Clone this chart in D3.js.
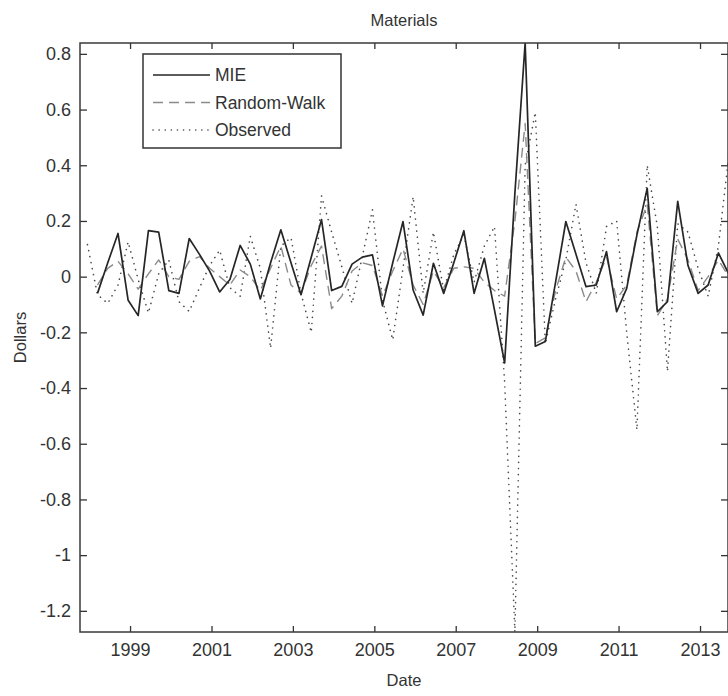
<!DOCTYPE html>
<html>
<head>
<meta charset="utf-8">
<script src="https://d3js.org/d3.v7.min.js"></script>
<style>
body { margin: 0; background: #fff; }
svg text { font-family: "Liberation Sans", Arial, Helvetica, sans-serif; fill: #333; }
</style>
</head>
<body>
<script>
// quarterly observation dates (middle of the last month of each quarter)
var dates = [
  "1997-12-15", "1998-03-15", "1998-06-15", "1998-09-15",
  "1998-12-15", "1999-03-15", "1999-06-15", "1999-09-15",
  "1999-12-15", "2000-03-15", "2000-06-15", "2000-09-15",
  "2000-12-15", "2001-03-15", "2001-06-15", "2001-09-15",
  "2001-12-15", "2002-03-15", "2002-06-15", "2002-09-15",
  "2002-12-15", "2003-03-15", "2003-06-15", "2003-09-15",
  "2003-12-15", "2004-03-15", "2004-06-15", "2004-09-15",
  "2004-12-15", "2005-03-15", "2005-06-15", "2005-09-15",
  "2005-12-15", "2006-03-15", "2006-06-15", "2006-09-15",
  "2006-12-15", "2007-03-15", "2007-06-15", "2007-09-15",
  "2007-12-15", "2008-03-15", "2008-06-15", "2008-09-15",
  "2008-12-15", "2009-03-15", "2009-06-15", "2009-09-15",
  "2009-12-15", "2010-03-15", "2010-06-15", "2010-09-15",
  "2010-12-15", "2011-03-15", "2011-06-15", "2011-09-15",
  "2011-12-15", "2012-03-15", "2012-06-15", "2012-09-15",
  "2012-12-15", "2013-03-15", "2013-06-15", "2013-09-15"
];

var mie = [
  null, -0.06, 0.05, 0.155,
  -0.085, -0.14, 0.165, 0.16,
  -0.05, -0.06, 0.137, 0.08,
  0.02, -0.055, -0.01, 0.112,
  0.045, -0.08, 0.05, 0.168,
  0.05, -0.065, 0.07, 0.205,
  -0.05, -0.035, 0.045, 0.07,
  0.078, -0.105, 0.05, 0.198,
  -0.048, -0.138, 0.048, -0.06,
  0.05, 0.165, -0.06, 0.066,
  -0.12, -0.31, 0.3, 0.839,
  -0.25, -0.233, -0.02, 0.198,
  0.08, -0.036, -0.03, 0.09,
  -0.126, -0.042, 0.15, 0.317,
  -0.126, -0.09, 0.27, 0.04,
  -0.06, -0.03, 0.085, 0.01
];

var randomWalk = [
  null, -0.03, 0.03, 0.055,
  0.01, -0.045, 0.01, 0.06,
  0.0, -0.01, 0.055, 0.072,
  0.03, 0.0, -0.03, 0.024,
  0.0, -0.05, 0.03, 0.11,
  -0.03, -0.06, 0.04, 0.11,
  -0.115, -0.07, 0.02, 0.05,
  0.04, -0.07, 0.02, 0.1,
  -0.03, -0.1, 0.02, -0.04,
  0.03, 0.035, 0.03, -0.02,
  -0.05, -0.07, 0.2, 0.55,
  -0.24, -0.22, -0.05, 0.07,
  0.02, -0.09, -0.02, 0.07,
  -0.08, -0.03, 0.16, 0.26,
  -0.14, -0.08, 0.135, 0.06,
  -0.05, 0.0, 0.06, 0.0
];

var observed = [
  0.115, -0.065, -0.096, -0.03,
  0.125, -0.01, -0.13, 0.01,
  0.06, -0.09, -0.125, -0.04,
  0.04, 0.095, -0.04, -0.07,
  0.145, 0.03, -0.257, 0.11,
  0.14, -0.06, -0.2, 0.29,
  0.16, 0.036, -0.096, 0.072,
  0.24, -0.084, -0.227, 0.03,
  0.287, -0.06, 0.16, -0.05,
  0.08, 0.15, -0.02, 0.11,
  0.18, -0.38, -1.276, 0.4,
  0.59, -0.24, -0.08, 0.06,
  0.26, 0.05, -0.06, 0.18,
  0.2, -0.2, -0.55, 0.4,
  0.18, -0.34, 0.19, 0.16,
  0.03, -0.07, 0.11, 0.43
];

var seriesNames = ["MIE", "Random-Walk", "Observed"];
var xTicks = [1999, 2001, 2003, 2005, 2007, 2009, 2011, 2013];
var yTicks = [0.8, 0.6, 0.4, 0.2, 0, -0.2, -0.4, -0.6, -0.8, -1, -1.2];

// set the dimensions and margins of the graph
var margin = {top: 43, right: 0, bottom: 64, left: 80},
    width = 728 - margin.left - margin.right,
    height = 696 - margin.top - margin.bottom;

var parseDate = d3.timeParse("%Y-%m-%d");

var x = d3.scaleTime()
    .domain([new Date(1997, 9, 9), new Date(2013, 8, 9)])
    .range([0, width]);
var y = d3.scaleLinear().domain([-1.276, 0.839]).range([height, 0]);

var styles = [
  {color: "#262626", width: 1.7, dash: null},
  {color: "#8a8a8a", width: 1.4, dash: "10,6"},
  {color: "#4a4a4a", width: 1.6, dash: "0.1,6"}
];

var svg = d3.select("body").append("svg")
    .attr("width", 728)
    .attr("height", 696)
  .append("g")
    .attr("transform", "translate(" + margin.left + "," + margin.top + ")");

svg.append("clipPath").attr("id", "clip")
  .append("rect").attr("width", width).attr("height", height);

var series = [mie, randomWalk, observed].map(function(vals) {
  return vals.map(function(v, i) { return {date: parseDate(dates[i]), value: v}; });
});

var valueline = d3.line()
    .defined(function(d) { return d.value != null; })
    .x(function(d) { return x(d.date); })
    .y(function(d) { return y(d.value); });

// draw observed first, then random walk, MIE on top
[2, 1, 0].forEach(function(k) {
  svg.append("path")
      .datum(series[k])
      .attr("clip-path", "url(#clip)")
      .attr("fill", "none")
      .attr("stroke", styles[k].color)
      .attr("stroke-width", styles[k].width)
      .attr("stroke-linecap", k == 2 ? "round" : "butt")
      .attr("stroke-linejoin", "round")
      .attr("stroke-dasharray", styles[k].dash)
      .attr("d", valueline);
});

// axes (matlab style box with inward ticks)
var xTickDates = xTicks.map(function(yr) { return new Date(yr, 0, 1); });

var gx = svg.append("g")
    .attr("transform", "translate(0," + height + ")")
    .call(d3.axisBottom(x).tickValues(xTickDates).tickFormat(d3.timeFormat("%Y"))
      .tickSizeInner(-6).tickSizeOuter(0).tickPadding(11));
var gy = svg.append("g")
    .call(d3.axisLeft(y).tickValues(yTicks).tickFormat(function(d) { return String(d); })
      .tickSizeInner(-7).tickSizeOuter(0).tickPadding(9));
var gt = svg.append("g")
    .call(d3.axisTop(x).tickValues(xTickDates).tickFormat("")
      .tickSizeInner(-6).tickSizeOuter(0));
var gr = svg.append("g")
    .attr("transform", "translate(" + width + ",0)")
    .call(d3.axisRight(y).tickValues(yTicks).tickFormat("")
      .tickSizeInner(-7).tickSizeOuter(0));

[gx, gy, gt, gr].forEach(function(g) {
  g.select(".domain").remove();
  g.selectAll(".tick line").attr("stroke", "#333").attr("stroke-width", 1.3);
  g.selectAll(".tick text").style("font-size", "18px").attr("fill", "#333");
});

svg.append("rect")
    .attr("width", width)
    .attr("height", height)
    .attr("fill", "none")
    .attr("stroke", "#3a3a3a")
    .attr("stroke-width", 1.5);

// titles
svg.append("text")
    .attr("x", width / 2)
    .attr("y", -17)
    .attr("text-anchor", "middle")
    .style("font-size", "16.5px")
    .text("Materials");

svg.append("text")
    .attr("x", width / 2)
    .attr("y", height + 54)
    .attr("text-anchor", "middle")
    .style("font-size", "16.5px")
    .text("Date");

svg.append("text")
    .attr("transform", "translate(-54," + (height / 2) + ") rotate(-90)")
    .attr("text-anchor", "middle")
    .style("font-size", "16.5px")
    .text("Dollars");

// legend
var legend = svg.append("g").attr("transform", "translate(63,11)");
legend.append("rect")
    .attr("width", 198)
    .attr("height", 94)
    .attr("fill", "#fff")
    .attr("stroke", "#333")
    .attr("stroke-width", 1.5);

seriesNames.forEach(function(name, k) {
  var row = legend.append("g").attr("transform", "translate(0," + (21 + k * 27.5) + ")");
  row.append("line")
      .attr("x1", 10).attr("x2", 67)
      .attr("stroke", styles[k].color)
      .attr("stroke-width", styles[k].width)
      .attr("stroke-linecap", k == 2 ? "round" : "butt")
      .attr("stroke-dasharray", styles[k].dash);
  row.append("text")
      .attr("x", 72)
      .attr("dy", "0.35em")
      .style("font-size", "17.5px")
      .text(name);
});
</script>
</body>
</html>
